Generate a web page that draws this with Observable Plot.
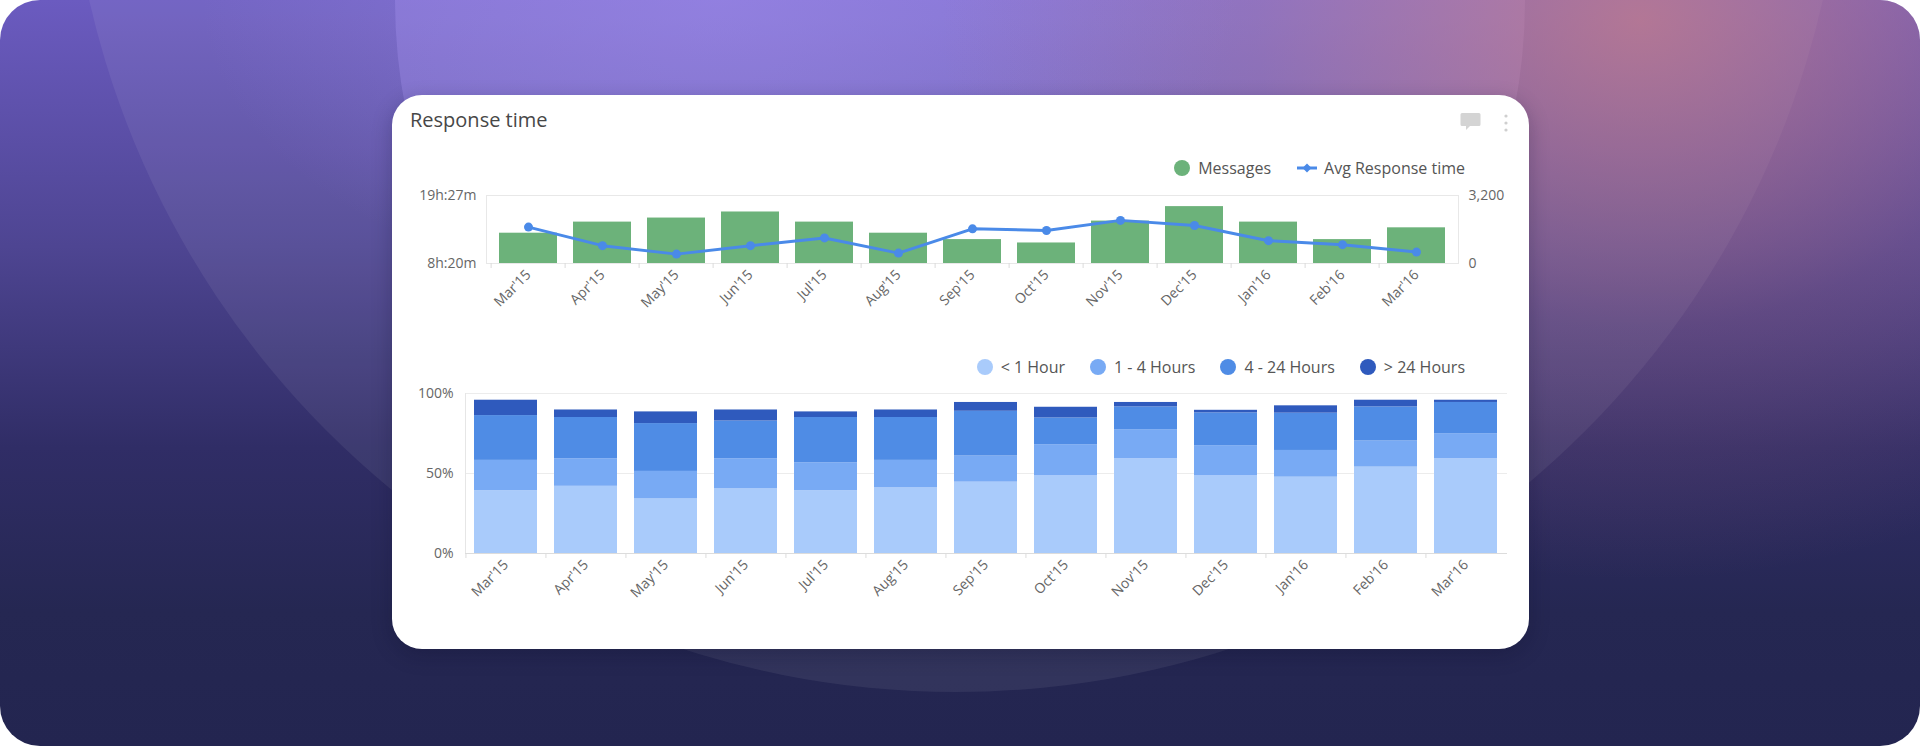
<!DOCTYPE html>
<html><head><meta charset="utf-8">
<script src="https://cdn.jsdelivr.net/npm/d3@7"></script>
<script src="https://cdn.jsdelivr.net/npm/@observablehq/plot@0.6"></script>
<style>
html,body{margin:0;padding:0;background:#fff;}
body{width:1920px;height:746px;overflow:hidden;font-family:"Open Sans",sans-serif;position:relative;}
#bg{position:absolute;left:0;top:0;width:1920px;height:746px;border-radius:40px;overflow:hidden;
 background:linear-gradient(180deg,#6b5bc0 0%,#4e4592 33%,#302d66 60%,#252752 82%,#232550 100%);}
.layer{position:absolute;}
#c1{left:67px;top:-1086px;width:1778px;height:1778px;border-radius:50%;background:rgba(255,255,255,0.065);}
#c2{left:395px;top:-565px;width:1130px;height:1130px;border-radius:50%;background:rgba(185,165,255,0.26);}
#glow{left:0;top:0;width:1920px;height:746px;background:radial-gradient(ellipse 700px 560px at 1640px 20px, rgba(200,125,135,0.75), rgba(180,110,130,0.25) 55%, rgba(160,100,130,0) 100%);}
#glow2{left:0;top:0;width:1920px;height:746px;background:radial-gradient(ellipse 520px 300px at 720px 0px, rgba(160,140,240,0.45), rgba(160,140,240,0) 100%);}
#card{position:absolute;left:392px;top:95px;width:1137px;height:554px;background:#fff;border-radius:30px;box-shadow:0 6px 20px rgba(10,10,40,0.25);}
#title{position:absolute;left:18px;top:12px;font-size:20px;line-height:26px;color:#474747;}
.legend{position:absolute;right:64px;display:flex;align-items:center;font-size:16px;color:#555;height:22px;}
.legend .sw{width:16px;height:16px;border-radius:50%;margin-right:8px;}
.legend .item{display:flex;align-items:center;margin-left:25px;}
.legend .item:first-child{margin-left:0;}
#upper{position:absolute;left:0;top:85px;}
#lower{position:absolute;left:0;top:283px;}
#icons{position:absolute;left:1060px;top:12px;}
</style></head>
<body>
<div id="bg">
  <div class="layer" id="c1"></div>
  <div class="layer" id="c2"></div>
  <div class="layer" id="glow2"></div>
  <div class="layer" id="glow"></div>
</div>
<div id="card">
  <div id="title">Response time</div>
  <svg id="icons" width="70" height="30">
    <path d="M10 6 h17 a1.5 1.5 0 0 1 1.5 1.5 v10 a1.5 1.5 0 0 1 -1.5 1.5 h-9 l-4 4 v-4 h-4 a1.5 1.5 0 0 1 -1.5 -1.5 v-10 a1.5 1.5 0 0 1 1.5 -1.5z" fill="#d4d4d4"/>
    <circle cx="54" cy="9" r="1.6" fill="#cfcfcf"/><circle cx="54" cy="16" r="1.6" fill="#cfcfcf"/><circle cx="54" cy="23" r="1.6" fill="#cfcfcf"/>
  </svg>
  <div class="legend" id="legUpper" style="top:62px"></div>
  <div id="upper"></div>
  <div class="legend" id="legLower" style="top:261px"></div>
  <div id="lower"></div>
</div>
<script>
// ---------- data ----------
const months = ["Mar'15","Apr'15","May'15","Jun'15","Jul'15","Aug'15","Sep'15","Oct'15","Nov'15","Dec'15","Jan'16","Feb'16","Mar'16"];
const messages = [1426, 1948, 2139, 2424, 1948, 1426, 1125, 966, 1996, 2677, 1948, 1125, 1679];
const avgResponseMinutes = [857, 675, 592, 675, 751, 602, 840, 824, 923, 873, 724, 685, 612];
const leftTickLabels = ["8h:20m", "19h:27m"];
const rightTicks = [0, 3200];
const upperSeries = ["Messages", "Avg Response time"];
const upperColors = ["#6cb27a", "#4a8ae8"];

const categories = ["< 1 Hour", "1 - 4 Hours", "4 - 24 Hours", "> 24 Hours"];
const catColors = ["#a9cbfb", "#78aaf4", "#4f8ce5", "#2f5abd"];
const under1h = [39.3, 42.0, 34.1, 40.4, 39.3, 41.0, 44.6, 48.7, 59.2, 48.7, 47.7, 54.0, 59.2];
const h1to4   = [18.9, 17.2, 17.2, 18.8, 17.4, 17.2, 16.3, 19.3, 18.2, 18.7, 16.7, 16.3, 15.7];
const h4to24  = [28.0, 25.8, 29.9, 23.6, 28.3, 26.8, 28.0, 16.7, 14.2, 20.5, 23.3, 21.3, 19.5];
const over24h = [ 9.6,  4.7,  7.3,  6.9,  3.5,  4.7,  5.5,  6.7,  2.8,  1.6,  4.6,  4.2,  1.4];
const pctTicks = [0, 50, 100];

// ---------- helpers ----------
const parseHM = s => { const m = s.match(/(\d+)h:(\d+)m/); return +m[1] * 60 + +m[2]; };
const toRight = d3.scaleLinear(leftTickLabels.map(parseHM), rightTicks);
const W = 1137;
const font = {fontFamily: "'Open Sans', sans-serif", fontSize: "14px", color: "#666", background: "transparent", overflow: "visible"};

// ---------- upper chart ----------
const upperData = months.map((m, i) => ({month: m, messages: messages[i], avg: avgResponseMinutes[i]}));
const uML = 94, uMR = 71;
const uStep = (W - uML - uMR) / months.length;
const upper = Plot.plot({
  width: W, height: 148, marginLeft: uML, marginRight: uMR, marginTop: 15, marginBottom: 65,
  style: font,
  x: {domain: months, paddingInner: 0.22, paddingOuter: 0.11, label: null},
  y: {domain: rightTicks, label: null},
  marks: [
    Plot.frame({stroke: "#e8e8e8"}),
    Plot.barY(upperData, {x: "month", y: "messages", fill: upperColors[0]}),
    Plot.line(upperData, {x: "month", y: d => toRight(d.avg), stroke: upperColors[1], strokeWidth: 3}),
    Plot.dot(upperData, {x: "month", y: d => toRight(d.avg), fill: upperColors[1], r: 4.5}),
    Plot.axisY({anchor: "left", ticks: rightTicks, tickFormat: d => leftTickLabels[rightTicks.indexOf(d)], tickSize: 0, tickPadding: 10, label: null}),
    Plot.axisY({anchor: "right", ticks: rightTicks, tickFormat: d3.format(","), tickSize: 0, tickPadding: 10, label: null}),
    Plot.axisX({tickRotate: -45, tickSize: 0, tickPadding: 9, label: null}),
    Plot.axisX({tickSize: 5, tickFormat: () => "", dx: -uStep / 2, stroke: "#dcdcdc", label: null})
  ]
});
document.getElementById("upper").append(upper);

// ---------- lower chart ----------
const series = [under1h, h1to4, h4to24, over24h];
const stackData = months.flatMap((m, i) => series.map((s, j) => ({month: m, cat: categories[j], value: s[i]})));
const lML = 73, lMR = 22;
const lStep = (W - lML - lMR) / months.length;
const lower = Plot.plot({
  width: W, height: 245, marginLeft: lML, marginRight: lMR, marginTop: 15, marginBottom: 70,
  style: font,
  x: {domain: months, paddingInner: 0.21, paddingOuter: 0.105, label: null},
  y: {domain: [0, 100], label: null},
  color: {domain: categories, range: catColors},
  marks: [
    Plot.ruleY([50, 100], {stroke: "#ececec"}),
    Plot.frame({anchor: "left", stroke: "#e6e6e6"}),
    Plot.barY(stackData, {x: "month", y: "value", fill: "cat"}),
    Plot.ruleY([0], {stroke: "#dcdcdc"}),
    Plot.axisY({ticks: pctTicks, tickFormat: d => d + "%", tickSize: 0, tickPadding: 12, label: null}),
    Plot.axisX({tickRotate: -45, tickSize: 0, tickPadding: 9, label: null}),
    Plot.axisX({tickSize: 5, tickFormat: () => "", dx: -lStep / 2, stroke: "#dcdcdc", label: null})
  ]
});
document.getElementById("lower").append(lower);

// ---------- legends ----------
const legU = document.getElementById("legUpper");
legU.innerHTML =
  `<div class="item"><div class="sw" style="background:${upperColors[0]}"></div>${upperSeries[0]}</div>` +
  `<div class="item"><svg width="22" height="12" style="margin-right:6px"><line x1="1" y1="6" x2="21" y2="6" stroke="${upperColors[1]}" stroke-width="3"/><path d="M11 1.5 L15.5 6 L11 10.5 L6.5 6Z" fill="${upperColors[1]}"/></svg>${upperSeries[1]}</div>`;
const legL = document.getElementById("legLower");
legL.innerHTML = categories.map((c, i) =>
  `<div class="item"><div class="sw" style="background:${catColors[i]}"></div>${c}</div>`).join("");
</script>
</body></html>
